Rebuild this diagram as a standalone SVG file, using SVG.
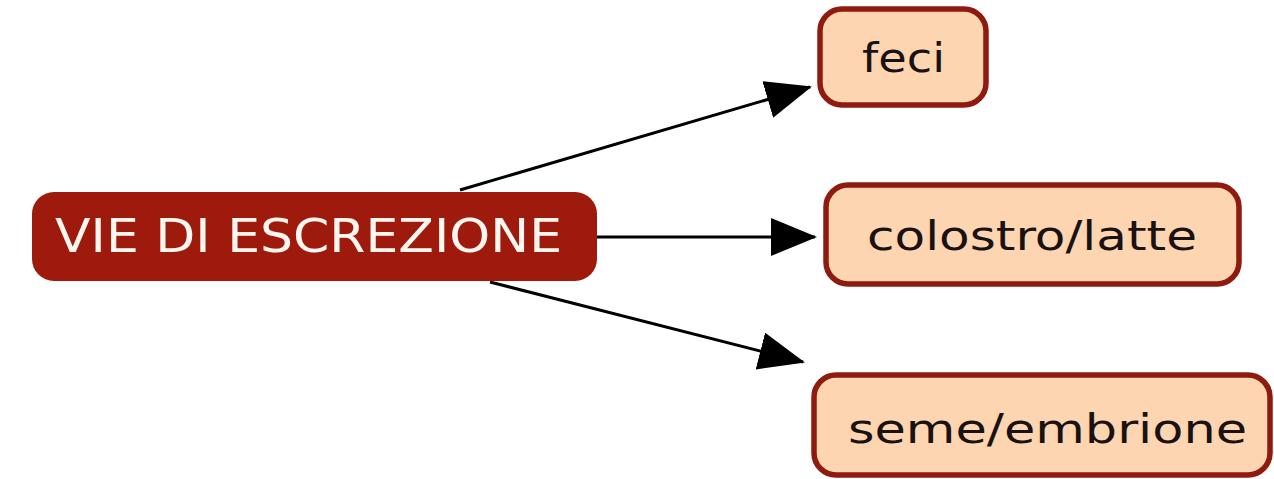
<svg xmlns="http://www.w3.org/2000/svg" width="1274" height="479" viewBox="0 0 1274 479">
<style>
.child rect{fill:#fdd5b1;stroke:#8e1a10;stroke-width:5.5}
.child text{font-family:"DejaVu Sans",Verdana,sans-serif;font-size:40px;fill:#1a1212}
.main rect{fill:#9e1a0c}
.main text{font-family:"DejaVu Sans",Verdana,sans-serif;font-size:46px;fill:#fff6f0}
#connectors line{stroke:#000;stroke-width:3;fill:none}
</style>
<defs>
<marker id="ah" markerUnits="userSpaceOnUse" markerWidth="46" markerHeight="38" refX="44" refY="19" orient="auto" viewBox="0 0 46 38">
<path d="M0,0 L46,19 L0,38 Z" fill="#000"/>
</marker>
</defs>
<rect width="1274" height="479" fill="#fff"/>
<g id="connectors">
<line x1="460" y1="190" x2="810" y2="87" marker-end="url(#ah)"/>
<line x1="596" y1="237" x2="815" y2="237" marker-end="url(#ah)"/>
<line x1="490" y1="282" x2="803" y2="362" marker-end="url(#ah)"/>
</g>
<g id="node-main" class="main">
<rect x="32" y="192" width="565" height="89" rx="22"/>
<text x="55" y="252" textLength="507" lengthAdjust="spacingAndGlyphs">VIE DI ESCREZIONE</text>
</g>
<g id="node-feci" class="child">
<rect x="820" y="9" width="166" height="96" rx="22"/>
<text x="862" y="72" textLength="83" lengthAdjust="spacingAndGlyphs">feci</text>
</g>
<g id="node-colostro" class="child">
<rect x="826" y="185" width="413" height="99" rx="22"/>
<text x="867" y="250" textLength="330" lengthAdjust="spacingAndGlyphs">colostro/latte</text>
</g>
<g id="node-seme" class="child">
<rect x="814" y="375" width="456" height="100" rx="22"/>
<text x="848" y="443" textLength="399" lengthAdjust="spacingAndGlyphs">seme/embrione</text>
</g>
</svg>
